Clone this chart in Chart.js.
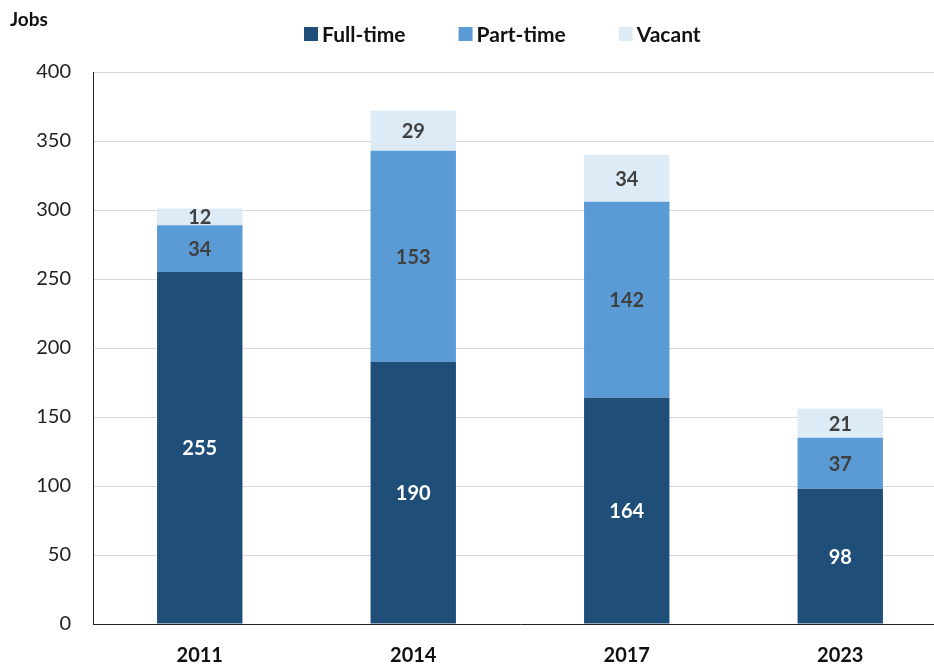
<!DOCTYPE html>
<html lang="en">
<head>
<meta charset="UTF-8">
<title>Jobs</title>
<style>
    html, body { margin: 0; padding: 0; background: #fff; overflow: hidden; }
    .wrap { position: relative; width: 948px; height: 666px; }
</style>
</head>
<body>
<div class="wrap">
    <canvas id="myChartCanvas"></canvas>
</div>
<script src="https://cdn.jsdelivr.net/npm/chart.js"></script>
<script>
    // dados do gráfico
    const anos = ['2011', '2014', '2017', '2023'];
    const fullTime = [255, 190, 164, 98];
    const partTime = [34, 153, 142, 37];
    const vacant = [12, 29, 34, 21];
    const yTicks = [0, 50, 100, 150, 200, 250, 300, 350, 400];

    const fonte = 'Lato, "Open Sans", sans-serif';

    // escreve os valores dentro das barras, a legenda e o titulo do eixo
    const rotulos = {
        id: 'rotulos',
        afterDatasetsDraw(chart) {
            const ctx = chart.ctx;
            ctx.save();
            ctx.font = 'bold 20px ' + fonte;
            ctx.textAlign = 'center';
            ctx.textBaseline = 'middle';
            chart.data.datasets.forEach(function (ds, i) {
                const meta = chart.getDatasetMeta(i);
                meta.data.forEach(function (bar, j) {
                    ctx.fillStyle = i == 0 ? '#ffffff' : '#404040';
                    ctx.fillText(ds.data[j], bar.x, (bar.y + bar.base) / 2 + 1);
                });
            });

            // titulo do eixo
            ctx.fillStyle = '#111';
            ctx.textAlign = 'left';
            ctx.font = 'bold 19px ' + fonte;
            ctx.fillText('Jobs', 10, 20);

            // legenda
            ctx.font = 'bold 21px ' + fonte;
            let x = 304;
            const y = 34;
            chart.data.datasets.forEach(function (ds) {
                ctx.fillStyle = ds.backgroundColor;
                ctx.fillRect(x, y - 7, 14, 14);
                ctx.fillStyle = '#111';
                ctx.fillText(ds.label, x + 18, y + 1);
                x += 18 + ctx.measureText(ds.label).width + 53;
            });
            ctx.restore();
        }
    };

    const dados = {
        labels: anos,
        datasets: [
            { label: 'Full-time', data: fullTime, backgroundColor: '#1f4e79' },
            { label: 'Part-time', data: partTime, backgroundColor: '#5b9bd5' },
            { label: 'Vacant', data: vacant, backgroundColor: '#ddebf7' }
        ]
    };

    const config = {
        type: 'bar',
        data: dados,
        plugins: [rotulos],
        options: {
            responsive: true,
            maintainAspectRatio: false,
            animation: false,
            datasets: { bar: { barPercentage: 1, categoryPercentage: 0.4 } },
            layout: { padding: { top: 72, left: 0, right: 1, bottom: 0 } },
            plugins: {
                tooltip: { enabled: false },
                legend: { display: false }
            },
            scales: {
                x: {
                    stacked: true,
                    grid: { display: false },
                    border: { color: '#222', width: 1 },
                    afterFit: function (scale) { scale.height = 42; },
                    ticks: {
                        color: '#111',
                        padding: 12,
                        font: { family: fonte, size: 20, weight: 'bold' }
                    }
                },
                y: {
                    stacked: true,
                    min: 0,
                    max: 400,
                    afterFit: function (scale) { scale.width = 93; },
                    afterBuildTicks: function (scale) {
                        scale.ticks = yTicks.map(function (v) { return { value: v }; });
                    },
                    grid: { color: '#d9d9d9', drawTicks: false },
                    border: { color: '#222', width: 1 },
                    ticks: {
                        color: '#222',
                        padding: 22,
                        font: { family: fonte, size: 20 }
                    }
                }
            }
        }
    };

    let myChart = new Chart(document.getElementById('myChartCanvas'), config);
</script>
</body>
</html>
